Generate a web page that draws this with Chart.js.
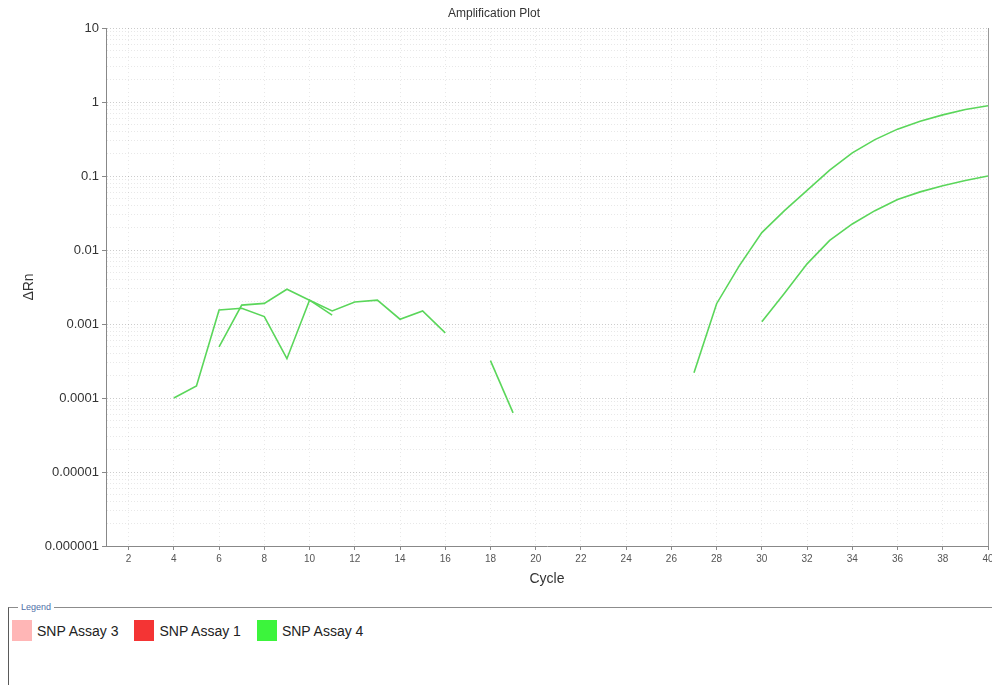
<!DOCTYPE html>
<html>
<head>
<meta charset="utf-8">
<title>Amplification Plot</title>
<script src="https://cdn.jsdelivr.net/npm/chart.js@4/dist/chart.umd.min.js"></script>
<style>
  html, body { margin: 0; padding: 0; background: #fff; width: 992px; height: 685px; overflow: hidden;
    font-family: "Liberation Sans", Arial, sans-serif; }
  #wrap { position: absolute; left: 0; top: 0; width: 992px; height: 598px; }
  #legendBox { position: absolute; left: 8px; top: 607px; width: 1200px; height: 200px;
    border-top: 1px solid #8c8c8c; border-left: 1px solid #5a5a5a; }
  #legendTitle { position: absolute; left: 9px; top: -7px; background: #fff; padding: 0 3px;
    font-size: 9px; line-height: 12px; color: #5070a8; }
  #legendItems { position: absolute; left: 3px; top: 12px; display: flex; align-items: center; }
  .sw { width: 20px; height: 21px; margin-right: 5px; box-sizing: border-box; }
  .lbl { font-size: 14px; color: #222; margin-right: 16px; white-space: nowrap; }
</style>
</head>
<body>
<div id="wrap"><canvas id="chart" width="992" height="598"></canvas></div>
<div id="legendBox">
  <span id="legendTitle">Legend</span>
  <div id="legendItems"></div>
</div>
<script>
// Cycle axis ticks
const xTickValues = [2, 4, 6, 8, 10, 12, 14, 16, 18, 20, 22, 24, 26, 28, 30, 32, 34, 36, 38, 40];

// ΔRn decades and their printed labels
const yDecadeValues = [1e-6, 1e-5, 1e-4, 1e-3, 1e-2, 1e-1, 1, 10];
const yDecadeLabels = ['0.000001', '0.00001', '0.0001', '0.001', '0.01', '0.1', '1', '10'];
const yMinorSteps = [2, 3, 4, 5, 6, 7, 8, 9];

// Wells (SNP Assay 4): cycle numbers and ΔRn readings
const wellACycles = [4, 5, 6, 7, 8, 9, 10, 11];
const wellAValues = [0.0001, 0.000145, 0.00155, 0.00163, 0.00126, 0.00034, 0.0021, 0.00132];

const wellBCycles = [6, 7, 8, 9, 10, 11, 12, 13, 14, 15, 16];
const wellBValues = [0.00049, 0.0018, 0.0019, 0.00295, 0.0021, 0.0015, 0.00198, 0.0021, 0.00116, 0.0015, 0.00076];

const wellCCycles = [18, 19];
const wellCValues = [0.00032, 0.000063];

const wellDCycles = [27, 28, 29, 30, 31, 32, 33, 34, 35, 36, 37, 38, 39, 40];
const wellDValues = [0.00022, 0.00188, 0.0061, 0.0172, 0.034, 0.064, 0.12, 0.205, 0.31, 0.43, 0.55, 0.67, 0.79, 0.89];

const wellECycles = [30, 31, 32, 33, 34, 35, 36, 37, 38, 39, 40];
const wellEValues = [0.00107, 0.0026, 0.0065, 0.0135, 0.0225, 0.034, 0.048, 0.061, 0.074, 0.087, 0.1];

// Legend entries
const legendNames = ['SNP Assay 3', 'SNP Assay 1', 'SNP Assay 4'];
const legendColors = ['#ffb6b6', '#f43434', '#3cf43c'];

const lineColor = '#5ad65a';

const wells = [
  [wellACycles, wellAValues],
  [wellBCycles, wellBValues],
  [wellCCycles, wellCValues],
  [wellDCycles, wellDValues],
  [wellECycles, wellEValues]
];

const datasets = wells.map(([cyc, vals], i) => ({
  label: 'SNP Assay 4 #' + (i + 1),
  data: cyc.map((c, k) => ({ x: c, y: vals[k] })),
  borderColor: lineColor,
  borderWidth: 1.6,
  pointRadius: 0,
  tension: 0,
  fill: false
}));

// Legend strip below the plot
const itemsEl = document.getElementById('legendItems');
legendNames.forEach((name, i) => {
  const sw = document.createElement('div');
  sw.className = 'sw';
  sw.style.background = legendColors[i];
  const lb = document.createElement('div');
  lb.className = 'lbl';
  lb.textContent = name;
  itemsEl.appendChild(sw);
  itemsEl.appendChild(lb);
});

function decadeLabel(v) {
  const idx = yDecadeValues.findIndex(d => Math.abs(Math.log10(d) - Math.log10(v)) < 1e-6);
  return idx >= 0 ? yDecadeLabels[idx] : '';
}

// Right-hand frame edge of the plot area
const frameEdge = {
  id: 'frameEdge',
  afterDraw(chart) {
    const { ctx, chartArea } = chart;
    ctx.save();
    ctx.strokeStyle = '#9a9a9a';
    ctx.lineWidth = 1;
    ctx.beginPath();
    ctx.moveTo(Math.round(chartArea.right) + 0.5, chartArea.top);
    ctx.lineTo(Math.round(chartArea.right) + 0.5, chartArea.bottom);
    ctx.stroke();
    ctx.restore();
  }
};

const FONT = '"Liberation Sans", Arial, sans-serif';

new Chart(document.getElementById('chart'), {
  type: 'line',
  data: { datasets },
  plugins: [frameEdge],
  options: {
    responsive: false,
    animation: false,
    devicePixelRatio: 1,
    layout: { padding: { left: 0, right: 4, top: 0, bottom: 0 } },
    plugins: {
      legend: { display: false },
      tooltip: { enabled: false },
      title: {
        display: true,
        text: 'Amplification Plot',
        color: '#333',
        font: { family: FONT, size: 12, weight: 'normal' },
        padding: { top: 6, bottom: 7.6 }
      }
    },
    scales: {
      x: {
        type: 'linear',
        min: 1,
        max: 40,
        afterBuildTicks(scale) { scale.ticks = xTickValues.map(v => ({ value: v })); },
        afterFit(scale) { scale.height = 52; scale.paddingLeft = 0; scale.paddingRight = 0; },
        ticks: {
          autoSkip: false, maxRotation: 0, padding: 3,
          color: '#555', font: { family: FONT, size: 10 }
        },
        grid: {
          color: 'rgba(0,0,0,0.09)', lineWidth: 1,
          tickLength: 4, tickColor: '#888', tickBorderDash: []
        },
        border: { display: true, color: '#888', width: 1, dash: [1, 3] },
        title: {
          display: true, text: 'Cycle', color: '#333',
          font: { family: FONT, size: 14 }, padding: { top: 0, bottom: 10 }
        }
      },
      y: {
        type: 'logarithmic',
        min: 1e-6,
        max: 10,
        afterBuildTicks(scale) {
          const t = [];
          yDecadeValues.forEach((d, i) => {
            t.push({ value: d, major: true });
            if (i < yDecadeValues.length - 1) yMinorSteps.forEach(m => t.push({ value: d * m, major: false }));
          });
          scale.ticks = t;
        },
        afterFit(scale) { scale.width = 106; scale.paddingTop = 0; scale.paddingBottom = 0; },
        ticks: {
          autoSkip: false, padding: 3,
          color: '#333', font: { family: FONT, size: 13 },
          callback: (v) => decadeLabel(v)
        },
        grid: {
          color: (c) => (c.tick && c.tick.major) ? 'rgba(0,0,0,0.2)' : 'rgba(0,0,0,0.09)',
          lineWidth: 1,
          tickLength: 4,
          tickColor: (c) => (c.tick && c.tick.major) ? '#888' : 'rgba(0,0,0,0)',
          tickBorderDash: []
        },
        border: { display: true, color: '#888', width: 1, dash: [1, 2] },
        title: {
          display: true, text: 'ΔRn', color: '#333',
          font: { family: FONT, size: 14 }, padding: { top: 21, bottom: 0 }
        }
      }
    }
  }
});
</script>
</body>
</html>
